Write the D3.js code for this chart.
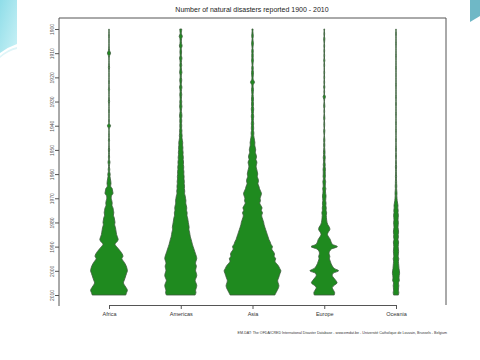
<!DOCTYPE html>
<html>
<head>
<meta charset="utf-8">
<script src="https://cdn.jsdelivr.net/npm/d3@7"></script>
<style>
  body { margin: 0; background: #ffffff; }
  svg { display: block; font-family: "Liberation Sans", Arial, sans-serif; }
</style>
</head>
<body>
<script>
// Regions along the x axis
var regions = ["Africa", "Americas", "Asia", "Europe", "Oceania"];

// Year ticks on the y axis
var yearTicks = [1900, 1910, 1920, 1930, 1940, 1950, 1960, 1970, 1980, 1990, 2000, 2010];

// Estimated number of disasters per year, 1900 .. 2010 (one value per year)
var africa = [
    1, 1, 1, 2, 1, 1, 1, 1, 2, 3,
    8, 3, 1, 1, 1, 2, 3, 1, 1, 1,
    1, 1, 2, 1, 1, 3, 1, 1, 1, 2,
    3, 1, 1, 1, 2, 1, 1, 1, 2, 1,
    8, 2, 1, 1, 2, 1, 3, 1, 1, 2,
    3, 2, 2, 3, 2, 5, 3, 2, 4, 3,
    6, 5, 7, 9, 10, 8, 16, 18, 20, 12,
    11, 14, 16, 15, 20, 22, 24, 22, 26, 28,
    30, 28, 32, 34, 36, 38, 42, 46, 40, 30,
    38, 48, 58, 66, 70, 64, 72, 80, 86, 90,
    92, 88, 84, 80, 76, 72, 78, 86, 92, 88,
    84
];
var americas = [
    5, 4, 3, 8, 4, 3, 4, 7, 3, 4,
    4, 3, 6, 4, 3, 5, 3, 4, 6, 3,
    3, 5, 4, 3, 6, 4, 3, 5, 4, 3,
    5, 4, 6, 4, 3, 5, 6, 4, 5, 4,
    5, 4, 6, 5, 7, 6, 8, 10, 9, 11,
    10, 12, 11, 13, 12, 14, 13, 15, 14, 16,
    15, 17, 16, 18, 17, 19, 18, 20, 19, 22,
    24, 26, 25, 28, 30, 29, 32, 31, 34, 36,
    38, 40, 42, 41, 44, 46, 48, 52, 55, 58,
    62, 66, 70, 74, 78, 80, 76, 74, 78, 76,
    74, 78, 80, 76, 72, 76, 80, 78, 74, 76,
    72
];
var asia = [
    3, 2, 3, 4, 2, 3, 5, 3, 2, 4,
    3, 4, 3, 5, 3, 2, 4, 3, 5, 4,
    3, 4, 10, 4, 3, 5, 4, 3, 4, 5,
    4, 5, 4, 6, 5, 4, 6, 5, 4, 6,
    5, 6, 5, 7, 6, 8, 10, 12, 11, 14,
    16, 14, 18, 20, 17, 22, 20, 18, 21, 24,
    26, 24, 28, 30, 27, 32, 35, 40, 45, 42,
    38, 40, 36, 42, 48, 44, 50, 46, 48, 52,
    56, 58, 62, 66, 70, 74, 78, 82, 88, 92,
    100, 96, 104, 110, 108, 116, 112, 120, 130, 136,
    142, 138, 134, 130, 126, 128, 132, 130, 124, 118,
    112
];
var europe = [
    2, 1, 2, 1, 3, 2, 1, 2, 1, 2,
    1, 2, 1, 3, 1, 2, 1, 1, 2, 1,
    2, 1, 2, 1, 3, 1, 2, 1, 6, 2,
    1, 2, 3, 1, 2, 1, 2, 3, 1, 2,
    2, 1, 3, 2, 1, 2, 3, 2, 3, 2,
    3, 4, 3, 5, 4, 3, 5, 4, 6, 5,
    5, 6, 4, 7, 6, 5, 8, 6, 7, 9,
    8, 7, 9, 8, 10, 9, 12, 10, 11, 12,
    14, 18, 26, 28, 20, 16, 22, 30, 34, 40,
    66, 36, 26, 24, 28, 26, 30, 34, 40, 50,
    72, 44, 40, 48, 58, 64, 50, 40, 46, 52,
    50
];
var oceania = [
    1, 1, 2, 1, 1, 1, 2, 1, 1, 1,
    1, 2, 1, 1, 1, 1, 2, 1, 1, 1,
    1, 1, 1, 2, 1, 1, 1, 1, 2, 1,
    1, 2, 1, 1, 1, 2, 1, 1, 1, 2,
    1, 1, 2, 1, 1, 1, 2, 1, 1, 2,
    2, 1, 2, 2, 1, 2, 2, 3, 2, 2,
    2, 3, 2, 3, 3, 4, 3, 4, 5, 4,
    5, 6, 8, 10, 9, 11, 10, 12, 11, 10,
    12, 11, 10, 12, 13, 11, 12, 10, 13, 12,
    11, 12, 13, 12, 11, 14, 12, 13, 14, 15,
    17, 18, 16, 15, 17, 12, 14, 13, 12, 14,
    12
];
var seriesList = [africa, americas, asia, europe, oceania];

var titleText = "Number of natural disasters reported 1900 - 2010";
var sourceText = "EM-DAT: The OFDA/CRED International Disaster Database - www.emdat.be - Université Catholique de Louvain, Brussels - Belgium";

function init() {
    var w = 480;
    var h = 360;

    var svg = d3.select("body")
        .append("svg")
        .attr("width", w)
        .attr("height", h);

    // slide decoration, top corners
    var defs = svg.append("defs");
    var grad = defs.append("linearGradient")
        .attr("id", "swoosh")
        .attr("x1", "0").attr("y1", "0")
        .attr("x2", "1").attr("y2", "1");
    grad.append("stop").attr("offset", "0%").attr("stop-color", "#8fdde8");
    grad.append("stop").attr("offset", "100%").attr("stop-color", "#c9f1f6");

    svg.append("path")
        .attr("d", "M0,0 H17 V44 Q8,47 0,53 Z")
        .attr("fill", "url(#swoosh)");
    svg.append("path")
        .attr("d", "M0,56 Q8,49 17,47 V49 Q8,51 0,58 Z")
        .attr("fill", "#dff5f8");
    svg.append("path")
        .attr("d", "M470,0 H480 V16 Q475,19 470,22 Z")
        .attr("fill", "#6fb8c6");

    // scales
    var y = d3.scaleLinear()
        .domain([1900, 2010])
        .range([29, 295]);

    var x = d3.scalePoint()
        .domain(regions)
        .range([109, 396]);

    var wScale = d3.scaleLinear()
        .domain([0, 100])
        .range([0, 20]);

    // plot frame (left, top and right)
    svg.append("path")
        .attr("d", "M59,306 V18 H446 V305")
        .attr("fill", "none")
        .attr("stroke", "#555")
        .attr("stroke-width", 1);

    // bean shapes
    var area = d3.area()
        .y(function(d, i) { return y(1900 + i); })
        .x0(function(d) { return -wScale(d); })
        .x1(function(d) { return wScale(d); })
        .curve(d3.curveCatmullRom);

    svg.selectAll("path.bean")
        .data(seriesList)
        .enter()
        .append("path")
        .attr("class", "bean")
        .attr("transform", function(d, i) { return "translate(" + x(regions[i]) + ",0)"; })
        .attr("d", area)
        .attr("fill", "#1f8a1f")
        .attr("stroke", "#3d5a3d")
        .attr("stroke-width", 0.8);

    // y axis with rotated year labels
    var yAxis = svg.append("g")
        .attr("transform", "translate(59,0)")
        .call(d3.axisLeft(y).tickValues(yearTicks).tickFormat(d3.format("d")).tickSize(4));
    yAxis.select(".domain").remove();
    yAxis.selectAll("line").attr("stroke", "#555");
    yAxis.selectAll("text")
        .attr("x", null)
        .attr("dy", null)
        .attr("transform", "translate(-5.5,0) rotate(-90)")
        .attr("text-anchor", "middle")
        .attr("font-size", 5)
        .attr("font-family", "Liberation Sans, Arial, sans-serif")
        .attr("fill", "#555");

    // x axis
    var xAxis = svg.append("g")
        .attr("transform", "translate(0,305)")
        .call(d3.axisBottom(x).tickSize(4));
    xAxis.selectAll("path, line").attr("stroke", "#555");
    xAxis.selectAll("text")
        .attr("y", 9)
        .attr("dy", "0.35em")
        .attr("font-size", 5.5)
        .attr("font-family", "Liberation Sans, Arial, sans-serif")
        .attr("fill", "#333");

    // title
    svg.append("text")
        .attr("x", 252)
        .attr("y", 11.5)
        .attr("text-anchor", "middle")
        .attr("font-size", 7)
        .attr("fill", "#222")
        .text(titleText);

    // source line
    svg.append("text")
        .attr("x", 447)
        .attr("y", 334)
        .attr("text-anchor", "end")
        .attr("font-size", 3.6)
        .attr("fill", "#333")
        .text(sourceText);
}
window.onload = init;
</script>
</body>
</html>
